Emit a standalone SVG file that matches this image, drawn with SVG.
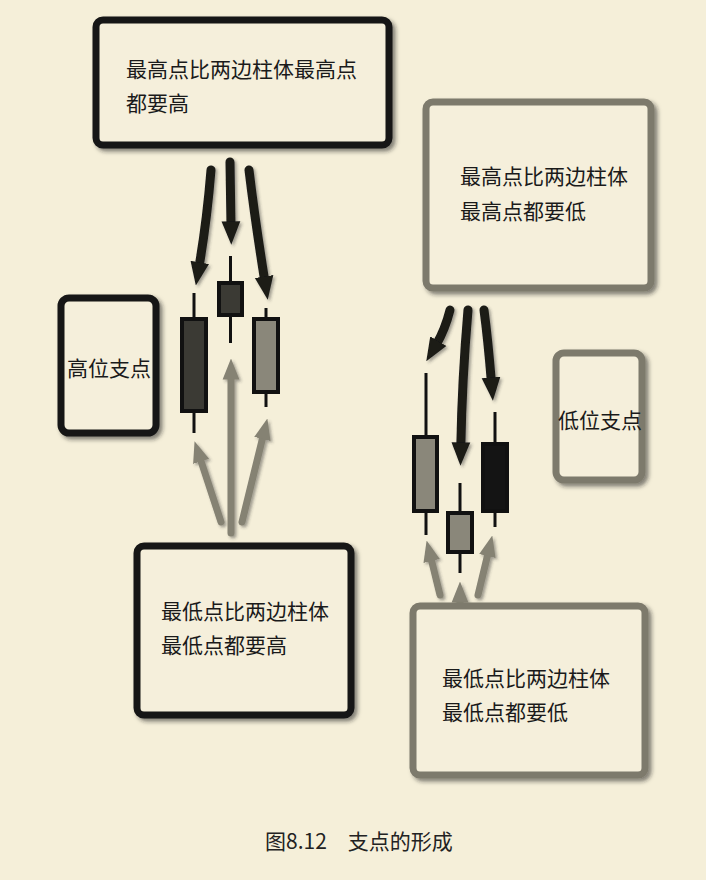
<svg xmlns="http://www.w3.org/2000/svg" width="706" height="880" viewBox="0 0 706 880">
<style>
.bg{fill:#f5efd9}
.box{fill:#f5efdb;stroke-width:7}
.dk{stroke:#151513}
.gy{stroke:#7d7a6c}
.t{font-family:"Noto Sans CJK SC","Liberation Sans",sans-serif;font-size:21px;fill:#1a1a1a}
.cap{font-family:"Noto Sans CJK SC","Liberation Sans",sans-serif;font-size:21px;fill:#222}
.wick{stroke:#111;stroke-width:3}
.body{stroke:#111;stroke-width:4}
.adk{stroke:#1a1a18;stroke-width:9;fill:none;stroke-linecap:round;marker-end:url(#hd)}
.agy{stroke:#858273;stroke-width:7;fill:none;stroke-linecap:round;marker-end:url(#hg)}
</style>
<defs>
<filter id="sh" x="-10%" y="-10%" width="130%" height="130%">
<feDropShadow dx="3" dy="3" stdDeviation="2" flood-color="#222" flood-opacity="0.55"/>
</filter>
<filter id="ash" x="-30%" y="-10%" width="160%" height="130%">
<feDropShadow dx="2" dy="2" stdDeviation="1.5" flood-color="#333" flood-opacity="0.45"/>
</filter>
<marker id="hd" viewBox="0 0 3 2.4" refX="0.6" refY="1.2" markerWidth="2.6" markerHeight="2.2" orient="auto">
<path d="M0,0 L3,1.2 L0,2.4 z" fill="#1a1a18"/>
</marker>
<marker id="hg" viewBox="0 0 3 2.4" refX="0.5" refY="1.2" markerWidth="3" markerHeight="2.6" orient="auto">
<path d="M0,0 L3,1.2 L0,2.4 z" fill="#858273"/>
</marker>
</defs>
<rect class="bg" x="0" y="0" width="706" height="880"/>

<g id="connectors" filter="url(#ash)">
<path class="adk" d="M211,170 Q207,220 199,267"/>
<path class="adk" d="M230,162 L231,226"/>
<path class="adk" d="M249,170 Q255,220 264.8,281.2"/>
<path class="agy" d="M231,533 L231,376"/>
<path class="agy" d="M221,522 L200,458"/>
<path class="agy" d="M242,522 L263.2,435.5"/>
<path class="adk" d="M450,310 Q445,330 435.9,345.2"/>
<path class="adk" d="M468,310 Q462,380 460.8,447"/>
<path class="adk" d="M484,310 Q488,340 491.4,382.1"/>
<path class="agy" d="M440,595 L430.8,557.5"/>
<path class="agy" d="M460,615 L460,599"/>
<path class="agy" d="M478,595 L488.2,552.6"/>
</g>

<g id="candles-left">
<line class="wick" x1="194" y1="293" x2="194" y2="433"/>
<rect class="body" x="182" y="319" width="24" height="92" fill="#3b3a34"/>
<line class="wick" x1="230.5" y1="256" x2="230.5" y2="343"/>
<rect class="body" x="219" y="283" width="23" height="32" fill="#3b3a34"/>
<line class="wick" x1="266" y1="308" x2="266" y2="407"/>
<rect class="body" x="254" y="319" width="24" height="73" fill="#8a877a"/>
</g>

<g id="candles-right">
<line class="wick" x1="426" y1="373" x2="426" y2="535"/>
<rect class="body" x="414" y="437" width="23" height="74" fill="#8a877a"/>
<line class="wick" x1="460" y1="483" x2="460" y2="573"/>
<rect class="body" x="448" y="513" width="24" height="39" fill="#8a877a"/>
<line class="wick" x1="495" y1="412" x2="495" y2="527"/>
<rect class="body" x="483" y="444" width="24" height="67" fill="#141414"/>
</g>

<g id="box-high-top">
<rect class="box dk" x="96" y="20" width="293" height="125" rx="7" filter="url(#sh)"/>
<text class="t" x="126" y="77">最高点比两边柱体最高点</text>
<text class="t" x="126" y="111">都要高</text>
</g>

<g id="box-low-top">
<rect class="box gy" x="426" y="102" width="225" height="186" rx="7" filter="url(#sh)"/>
<text class="t" x="460" y="184">最高点比两边柱体</text>
<text class="t" x="460" y="219">最高点都要低</text>
</g>

<g id="box-high-support">
<rect class="box dk" x="61" y="298" width="95" height="135" rx="8" filter="url(#sh)"/>
<text class="t" x="67" y="376">高位支点</text>
</g>

<g id="box-low-support">
<rect class="box gy" x="556" y="353" width="86" height="127" rx="8" filter="url(#sh)"/>
<text class="t" x="558" y="428">低位支点</text>
</g>

<g id="box-high-bottom">
<rect class="box dk" x="137" y="546" width="214" height="169" rx="7" filter="url(#sh)"/>
<text class="t" x="161" y="619">最低点比两边柱体</text>
<text class="t" x="161" y="653">最低点都要高</text>
</g>

<g id="box-low-bottom">
<rect class="box gy" x="413" y="606" width="232" height="169" rx="7" filter="url(#sh)"/>
<text class="t" x="442" y="686">最低点比两边柱体</text>
<text class="t" x="442" y="720">最低点都要低</text>
</g>

<text class="cap" x="265" y="849">图8.12　支点的形成</text>
</svg>
